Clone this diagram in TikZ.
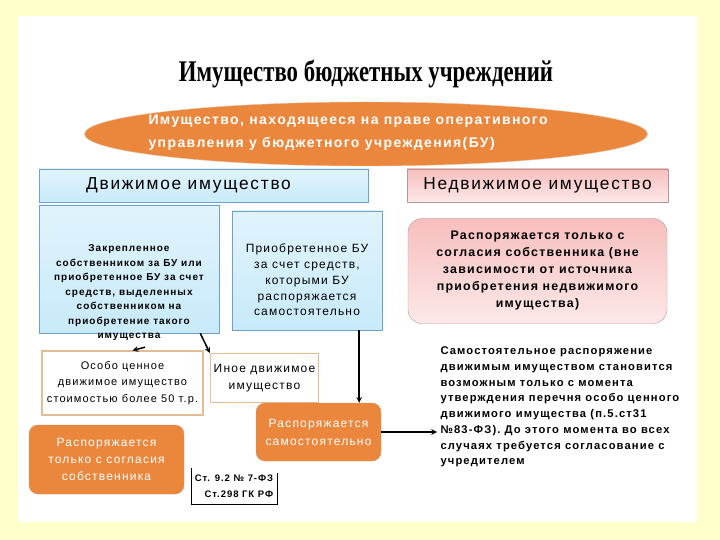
\documentclass[tikz,border=0pt]{standalone}
\usepackage{fontspec}
\setmainfont{Liberation Sans}
\newfontfamily\titlefont[FakeStretch=0.76]{Liberation Serif}
\newfontfamily\widefont[LetterSpace=10]{Liberation Sans}
\usetikzlibrary{shapes}

\definecolor{bgyellow}{RGB}{255,255,204}
\definecolor{boxblue}{RGB}{200,234,250}
\definecolor{lineblue}{RGB}{110,160,200}
\definecolor{boxpink}{RGB}{247,190,190}
\definecolor{linepink}{RGB}{150,110,110}
\definecolor{boxorange}{RGB}{234,135,60}
\definecolor{lineorange}{RGB}{215,150,105}
\definecolor{linebeige}{RGB}{225,190,150}

\tikzset{
  bluebox/.style={draw=lineblue, top color=boxblue!55, bottom color=boxblue},
  pinkbox/.style={draw=linepink!70, top color=boxpink, bottom color=boxpink!35},
  orangebox/.style={draw=lineorange, fill=boxorange, rounded corners=9pt,
                    text=white, align=center},
  whitebox/.style={draw=linebeige, line width=1.2pt, fill=white, align=center},
  linkarrow/.style={-stealth, line width=1.5pt}
}

\begin{document}
\begin{tikzpicture}[x=1pt,y=-1pt]
\useasboundingbox (0,0) rectangle (720,540);
\fill[bgyellow] (0,0) rectangle (720,540);
\fill[white] (18,16) rectangle (697,522);

\node (title) at (366,74) {\titlefont\bfseries\fontsize{30}{30}\selectfont Имущество бюджетных учреждений};

\node [ellipse, fill=boxorange, draw=lineorange!60, minimum width=563pt, minimum height=64pt]
      (oper) at (366,134) {};
\node [anchor=west, align=left, text=white, font=\widefont\bfseries\fontsize{14}{23}\selectfont]
      (opertext) at (145,133) {Имущество, находящееся  на праве оперативного\\управления у бюджетного учреждения(БУ)};

\node [bluebox, minimum width=329pt, minimum height=33pt,
       label={[xshift=-15pt, font=\widefont\fontsize{17.3}{18}\selectfont]center:Движимое имущество}]
      (dvizh) at (203.5,185.5) {};
\node [pinkbox, minimum width=261pt, minimum height=33pt, font=\widefont\fontsize{17.3}{18}\selectfont]
      (nedvizh) at (537.5,185.5) {Недвижимое имущество};

\node [bluebox, minimum width=180pt, minimum height=128pt] (zakr) at (129,269) {};
\node [align=center, font=\widefont\bfseries\fontsize{10}{14.5}\selectfont]
      (zakrtext) at (129,293) {Закрепленное\\собственником за БУ или\\приобретенное БУ за счет\\средств, выделенных\\собственником на\\приобретение такого\\имущества};

\node [bluebox, minimum width=150pt, minimum height=119pt] (priob) at (307,270.5) {};
\node [align=center, font=\widefont\fontsize{12}{15.7}\selectfont]
      (priobtext) at (307,280) {Приобретенное БУ\\за счет средств,\\которыми  БУ\\распоряжается\\самостоятельно};

\node [pinkbox, rounded corners=14pt, minimum width=259pt, minimum height=105pt, align=center,
       font=\widefont\bfseries\fontsize{12.4}{17}\selectfont]
      (soglnedv) at (537.5,271) {Распоряжается только с\\согласия собственника (вне\\зависимости от источника\\приобретения недвижимого\\имущества)};

\node [whitebox, minimum width=161pt, minimum height=64pt, font=\widefont\fontsize{11}{16.5}\selectfont]
      (osobo) at (122.5,383) {Особо ценное\\движимое имущество\\стоимостью более 50 т.р.};
\node [whitebox, minimum width=107pt, minimum height=49pt, font=\widefont\fontsize{12}{17}\selectfont]
      (inoe) at (264.5,378) {Иное движимое\\имущество};

\node [orangebox, minimum width=125pt, minimum height=58pt, font=\widefont\fontsize{12}{18}\selectfont]
      (samo) at (318.5,432) {Распоряжается\\самостоятельно};
\node [orangebox, minimum width=155pt, minimum height=69pt, font=\widefont\fontsize{12}{17}\selectfont]
      (sogl) at (106.5,459.5) {Распоряжается\\только с согласия\\собственника};

\node [minimum width=86pt, minimum height=36pt, align=right, font=\widefont\bfseries\fontsize{9.5}{16}\selectfont]
      (statya) at (234,486) {Ст. 9.2 № 7-ФЗ\\Ст.298 ГК РФ};
\draw (statya.north west) -- (statya.south west) -- (statya.south east) -- ([yshift=-5pt]statya.north east);

\node [anchor=west, align=left, font=\widefont\bfseries\fontsize{11.2}{15.7}\selectfont]
      (note) at (437,407) {Самостоятельное распоряжение\\движимым имуществом становится\\возможным только с момента\\утверждения перечня особо ценного\\движимого имущества (п.5.ст31\\№83-ФЗ). До этого момента во всех\\случаях требуется согласование с\\учредителем};

\draw [linkarrow] ([shift={(16,14)}]zakr.south) -- ([shift={(10,0)}]osobo.north);
\draw [linkarrow] ([shift={(-19,0)}]zakr.south east) -- (inoe.north west);
\draw [linkarrow] ([shift={(-23,0)}]priob.south east) -- ([shift={(-22,0)}]samo.north east);
\draw [linkarrow] (samo.east) -- (note.west |- samo.east);
\end{tikzpicture}
\end{document}
